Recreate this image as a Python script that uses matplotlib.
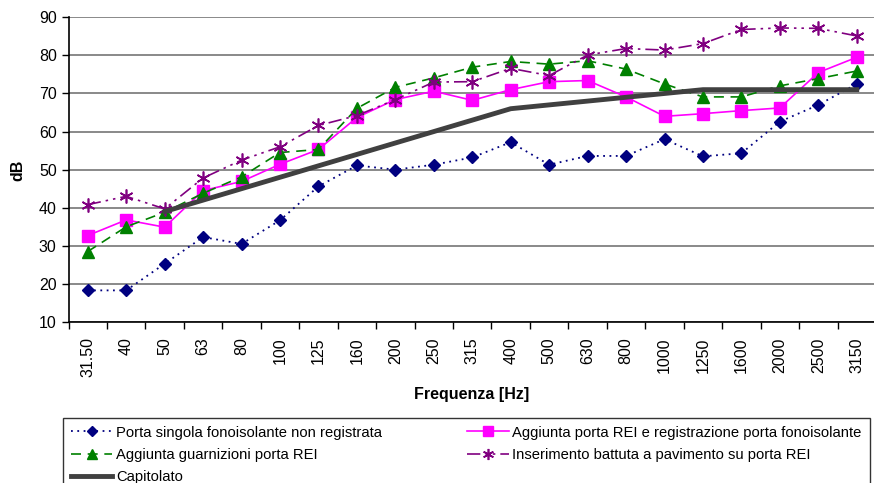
import numpy as np
import matplotlib
matplotlib.use('Agg')
import matplotlib.pyplot as plt

plt.rcParams['font.family'] = ['Liberation Sans', 'DejaVu Sans']

# Third-octave bands
freq_labels = ['31.50', '40', '50', '63', '80', '100', '125', '160', '200', '250', '315',
               '400', '500', '630', '800', '1000', '1250', '1600', '2000', '2500', '3150']

porta_singola = [18.3, 18.3, 25.3, 32.3, 30.5, 36.7, 45.6, 51.1, 50.0, 51.3, 53.2,
                 57.2, 51.3, 53.6, 53.6, 58.0, 53.5, 54.3, 62.6, 67.0, 72.5]
porta_rei = [32.7, 36.8, 34.9, 44.5, 46.9, 51.4, 55.3, 63.7, 68.4, 70.6, 68.2,
             71.0, 73.1, 73.4, 69.1, 64.0, 64.7, 65.5, 66.2, 75.5, 79.5]
guarnizioni = [28.5, 35.0, 38.8, 43.8, 48.1, 54.5, 55.3, 66.1, 71.6, 74.1, 76.9,
               78.4, 77.7, 78.6, 76.4, 72.5, 69.1, 69.1, 72.0, 73.9, 75.9]
battuta = [40.8, 43.0, 39.7, 47.8, 52.5, 56.0, 61.6, 64.2, 68.4, 73.0, 73.1,
           76.6, 74.7, 80.1, 81.8, 81.4, 83.1, 86.8, 87.2, 87.1, 85.1]
capitolato = [np.nan, np.nan, 39, 42, 45, 48, 51, 54, 57, 60, 63,
              66, 67, 68, 69, 70, 71, 71, 71, 71, 71]

x = np.arange(len(freq_labels))

fig = plt.figure(figsize=(8.74, 4.83), dpi=100)
ax = fig.add_axes([68.5 / 874, 1 - 322 / 483, (876 - 68.5) / 874, (322 - 17.3) / 483])

l1, = ax.plot(x, porta_singola, color='#000080', linestyle=(0, (1, 2.5)), lw=1.3,
              marker='D', markersize=6, label='Porta singola fonoisolante non registrata')
l2, = ax.plot(x, porta_rei, color='#FF00FF', linestyle='-', lw=1.2,
              marker='s', markersize=9, label='Aggiunta porta REI e registrazione porta fonoisolante')
l3, = ax.plot(x, guarnizioni, color='#008000', linestyle=(0, (6, 4)), lw=1.2,
              marker='^', markersize=9, label='Aggiunta guarnizioni porta REI')
l4, = ax.plot(x, battuta, color='#800080', linestyle=(0, (8, 3, 1.5, 3, 1.5, 3)), lw=1.2,
              marker=(6, 2, 0), markersize=10, markeredgewidth=1.2,
              label='Inserimento battuta a pavimento su porta REI')
l5, = ax.plot(x, capitolato, color='#404040', lw=3.5, label='Capitolato')

ax.set_xlim(-0.5, len(x) - 0.5)
ax.set_ylim(10, 90)
ax.set_yticks(range(10, 91, 10))
ax.yaxis.grid(True, color='#808080', lw=1.3)
ax.set_axisbelow(True)

ax.set_xticks(x)
ax.set_xticklabels(freq_labels, rotation=90, fontsize=11.5)
ax.set_xticks(np.arange(-0.5, len(x), 1), minor=True)
ax.tick_params(axis='x', which='major', length=0, pad=11)
ax.tick_params(axis='x', which='minor', length=5, width=1, direction='out')
ax.tick_params(axis='y', length=5, width=1, direction='out', labelsize=11.5)

ax.spines['top'].set_visible(False)
ax.spines['right'].set_visible(False)
ax.spines['left'].set_linewidth(1.2)
ax.spines['bottom'].set_linewidth(1.2)

fig.text(472 / 874, 1 - 395 / 483, 'Frequenza [Hz]', fontsize=11.5, fontweight='bold',
         ha='center', va='center')
fig.text(18 / 874, 1 - 170 / 483, 'dB', fontsize=11.5, fontweight='bold',
         ha='center', va='center', rotation=90)

leg = fig.legend([l1, l3, l5, l2, l4],
                 [l.get_label() for l in [l1, l3, l5, l2, l4]],
                 ncol=2, loc='upper left', bbox_to_anchor=(63 / 874, 1 - 417.5 / 483),
                 fontsize=10.6, frameon=True, fancybox=False, edgecolor='black',
                 handlelength=2.8, handletextpad=0.25, columnspacing=5.8,
                 labelspacing=0.55, borderpad=0.55, borderaxespad=0, markerscale=0.8)
leg.get_frame().set_linewidth(1.0)

fig.savefig('out.png', dpi=100)
